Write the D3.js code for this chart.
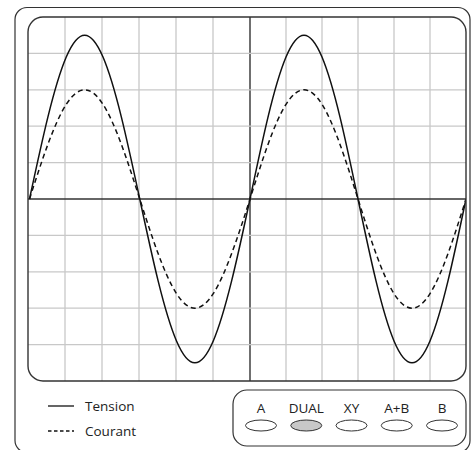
<!DOCTYPE html>
<html>
<head>
<meta charset="utf-8">
<script src="https://cdn.jsdelivr.net/npm/d3@7"></script>
<style>
  body { margin: 0; background: #fff; }
  text { font-family: "Open Sans", "Noto Sans", sans-serif; fill: #222; }
</style>
</head>
<body>
<svg id="scope" width="471" height="450"></svg>
<script>
// time axis in screen divisions, sampled every half division
const divisions = [0, 0.5, 1, 1.5, 2, 2.5, 3, 3.5, 4, 4.5, 5, 5.5, 6,
                   6.5, 7, 7.5, 8, 8.5, 9, 9.5, 10, 10.5, 11, 11.5, 12];
// tension (solid) in vertical divisions
const tension = [0, 2.25, 3.9, 4.5, 3.9, 2.25, 0, -2.25, -3.9, -4.5, -3.9, -2.25, 0,
                 2.25, 3.9, 4.5, 3.9, 2.25, 0, -2.25, -3.9, -4.5, -3.9, -2.25, 0];
// courant (dashed) in vertical divisions
const courant = [0, 1.5, 2.6, 3, 2.6, 1.5, 0, -1.5, -2.6, -3, -2.6, -1.5, 0,
                 1.5, 2.6, 3, 2.6, 1.5, 0, -1.5, -2.6, -3, -2.6, -1.5, 0];
const legendLabels = ["Tension", "Courant"];
const modes = ["A", "DUAL", "XY", "A+B", "B"];
const activeMode = "DUAL";

const svg = d3.select("#scope");
const screen = { left: 28, top: 17, right: 466, bottom: 381 };

const x = d3.scaleLinear().domain([0, 6, 12]).range([screen.left + 1.5, 250, screen.right]);
const gx = d3.scaleLinear().domain([0, 6, 12]).range([screen.left, 250, screen.right]);
const y = d3.scaleLinear().domain([-5, 5]).range([screen.bottom, screen.top]);

// outer case
svg.append("rect")
  .attr("x", 15).attr("y", 7.5)
  .attr("width", 455).attr("height", 445)
  .attr("rx", 12)
  .attr("fill", "none")
  .attr("stroke", "#333")
  .attr("stroke-width", 1.2);

svg.append("clipPath").attr("id", "screen-clip")
  .append("rect")
  .attr("x", screen.left).attr("y", screen.top)
  .attr("width", screen.right - screen.left)
  .attr("height", screen.bottom - screen.top)
  .attr("rx", 15);

const g = svg.append("g").attr("clip-path", "url(#screen-clip)");

// grid
g.selectAll(".vgrid")
  .data(d3.range(1, 12))
  .enter().append("line")
  .attr("x1", d => gx(d)).attr("x2", d => gx(d))
  .attr("y1", screen.top).attr("y2", screen.bottom)
  .attr("stroke", d => d === 6 ? "#333" : "#c8c8c8")
  .attr("stroke-width", d => d === 6 ? 1.4 : 1.3);

g.selectAll(".hgrid")
  .data(d3.range(-4, 5))
  .enter().append("line")
  .attr("x1", screen.left).attr("x2", screen.right)
  .attr("y1", d => y(d)).attr("y2", d => y(d))
  .attr("stroke", d => d === 0 ? "#333" : "#c8c8c8")
  .attr("stroke-width", d => d === 0 ? 1.4 : 1.3);

// screen border
svg.append("rect")
  .attr("x", screen.left).attr("y", screen.top)
  .attr("width", screen.right - screen.left)
  .attr("height", screen.bottom - screen.top)
  .attr("rx", 15)
  .attr("fill", "none")
  .attr("stroke", "#333")
  .attr("stroke-width", 1.4);

const line = d3.line()
  .x((d, i) => x(divisions[i]))
  .y(d => y(d))
  .curve(d3.curveNatural);

g.append("path")
  .attr("d", line(courant))
  .attr("fill", "none")
  .attr("stroke", "#111")
  .attr("stroke-width", 1.5)
  .attr("stroke-dasharray", "5,3.5");

g.append("path")
  .attr("d", line(tension))
  .attr("fill", "none")
  .attr("stroke", "#111")
  .attr("stroke-width", 1.5);

// legend
const legend = svg.append("g").attr("transform", "translate(48,406)");
legendLabels.forEach((label, i) => {
  const row = legend.append("g").attr("transform", `translate(0,${i * 25})`);
  row.append("line")
    .attr("x1", 0).attr("x2", 26)
    .attr("stroke", "#111")
    .attr("stroke-width", 1.3)
    .attr("stroke-dasharray", i === 0 ? null : "3.5,2.5");
  row.append("text")
    .attr("x", 37).attr("y", 4.5)
    .style("font-size", "13.5px")
    .text(label);
});

// mode selector panel
svg.append("rect")
  .attr("x", 233).attr("y", 390)
  .attr("width", 233).attr("height", 56)
  .attr("rx", 14)
  .attr("fill", "none")
  .attr("stroke", "#333")
  .attr("stroke-width", 1.2);

const mx = d3.scalePoint().domain(modes).range([261, 442]);

const btn = svg.selectAll(".mode")
  .data(modes)
  .enter().append("g")
  .attr("class", "mode")
  .attr("transform", d => `translate(${mx(d)},0)`);

btn.append("text")
  .attr("y", 413)
  .attr("text-anchor", "middle")
  .style("font-size", "13.5px")
  .text(d => d);

btn.append("ellipse")
  .attr("cy", 425.5)
  .attr("rx", 15.5).attr("ry", 5.5)
  .attr("fill", d => d === activeMode ? "#c8c8c8" : "#fff")
  .attr("stroke", "#333")
  .attr("stroke-width", 1);
</script>
</body>
</html>
